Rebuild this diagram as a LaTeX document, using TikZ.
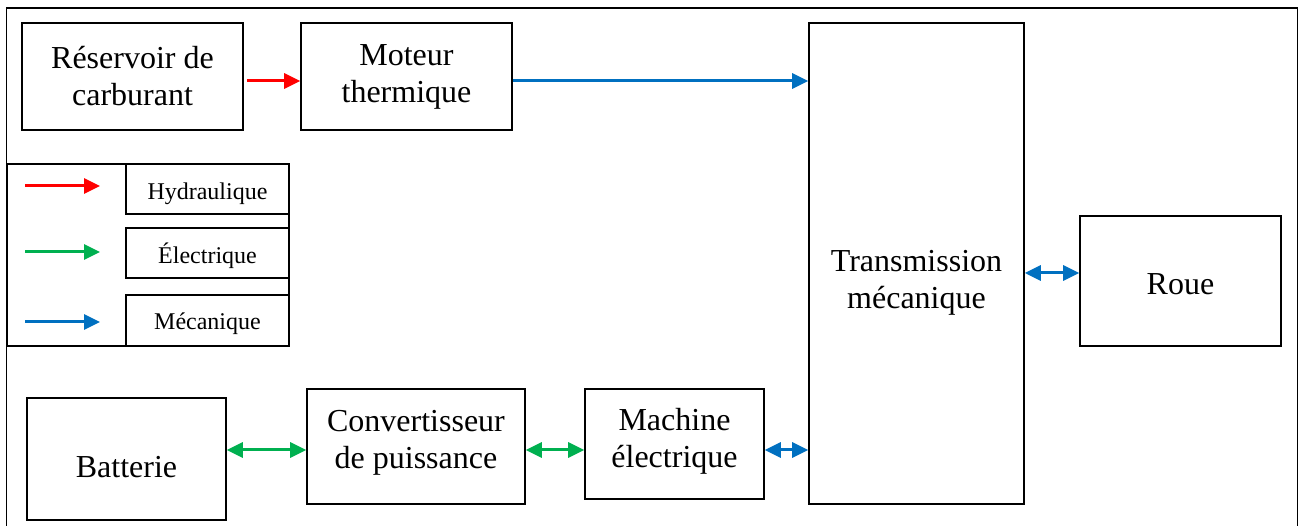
\documentclass[tikz,border=0pt]{standalone}
\usepackage{fontspec}
\setmainfont{Liberation Serif}
\usepackage{xcolor}
\usepackage{tikz}
\usetikzlibrary{arrows.meta, positioning}

\definecolor{hydrored}{HTML}{FF0000}
\definecolor{elecgreen}{HTML}{00B050}
\definecolor{mecablue}{HTML}{0070C0}

\newcommand{\boxfont}{\fontsize{32}{37}\selectfont}
\newcommand{\legendfont}{\fontsize{24}{28}\selectfont}

\begin{document}
\begin{tikzpicture}[
        x=1pt, y=-1pt,
        block/.style={rectangle, draw, line width=1.6pt, align=center, inner sep=0pt, font=\boxfont},
        blocktext/.style={font=\boxfont, align=center},
        legbox/.style={rectangle, draw, line width=1.6pt, inner sep=0pt, font=\legendfont},
        legtext/.style={font=\legendfont},
        flow/.style={line width=3pt, -{Triangle[length=16pt,width=15pt]}},
        dflow/.style={line width=3pt, {Triangle[length=16pt,width=15pt]}-{Triangle[length=16pt,width=15pt]}},
        hydro/.style={flow, draw=hydrored, fill=hydrored},
        elec/.style={dflow, draw=elecgreen, fill=elecgreen},
        meca/.style={flow, draw=mecablue, fill=mecablue},
        dmeca/.style={dflow, draw=mecablue, fill=mecablue}
        ]
        \useasboundingbox (0,0) rectangle (1302,526);

        % outer frame (open at the bottom)
        \draw[line width=1.6pt] (6.5,526) -- (6.5,8) -- (1297.5,8) -- (1297.5,526);

        \node[block, minimum width=221pt, minimum height=107pt] (reservoir) at (132.5,76.5) {Réservoir de\\carburant};
        \node[block, minimum width=211pt, minimum height=107pt] (moteur) at (406.5,76.5) {Moteur\\thermique};
        \node[block, minimum width=215pt, minimum height=481pt,
              label={[blocktext, yshift=-19pt]center:Transmission\\mécanique}] (transmission) at (916.5,263.5) {};
        \node[block, minimum width=201pt, minimum height=130pt,
              label={[blocktext, yshift=-3pt]center:Roue}] (roue) at (1180.5,281) {};
        \node[block, minimum width=199pt, minimum height=122pt,
              label={[blocktext, yshift=-8pt]center:Batterie}] (batterie) at (126.5,459) {};
        \node[block, minimum width=218pt, minimum height=115pt,
              label={[blocktext, yshift=4pt]center:Convertisseur\\de puissance}] (convertisseur) at (416,446.5) {};
        \node[block, minimum width=179pt, minimum height=110pt,
              label={[blocktext, yshift=3pt]center:Machine\\électrique}] (machine) at (674.5,444) {};

        % legend
        \node[legbox, minimum width=282pt, minimum height=182pt] (legend) at (148,255) {};
        \node[legbox, minimum width=163pt, minimum height=50pt,
              label={[legtext, yshift=-5pt]center:Hydraulique}] (hydraulique) at (207.5,189) {};
        \node[legbox, minimum width=163pt, minimum height=50pt,
              label={[legtext, yshift=-3pt]center:Électrique}] (electrique) at (207.5,253) {};
        \node[legbox, minimum width=163pt, minimum height=51pt,
              label={[legtext, yshift=-3pt]center:Mécanique}] (mecanique) at (207.5,320.5) {};
        \coordinate (hydA) at (25,186);
        \coordinate (hydB) at (100,186);
        \coordinate (eleA) at (25,252);
        \coordinate (eleB) at (100,252);
        \coordinate (mecA) at (25,322);
        \coordinate (mecB) at (100,322);
        \draw[hydro] (hydA) -- (hydB);
        \draw[elec, -{Triangle[length=16pt,width=15pt]}] (eleA) -- (eleB);
        \draw[meca] (mecA) -- (mecB);

        % flows
        \draw[hydro] ([xshift=3pt, yshift=-4.5pt]reservoir.east) -- ([yshift=-4.5pt]moteur.west);
        \draw[meca] ([yshift=-4.5pt]moteur.east) -- ([yshift=-4.5pt]transmission.west |- moteur.east);
        \draw[elec] ([yshift=9pt]batterie.east) -- ([yshift=-3.5pt]convertisseur.west);
        \draw[elec] ([yshift=-3.5pt]convertisseur.east) -- ([yshift=-6pt]machine.west);
        \draw[dmeca] ([yshift=-6pt]machine.east) -- ([yshift=-6pt]transmission.west |- machine.east);
        \draw[dmeca] ([yshift=-9.5pt]transmission.east) -- ([yshift=8pt]roue.west);

    \end{tikzpicture}
\end{document}
